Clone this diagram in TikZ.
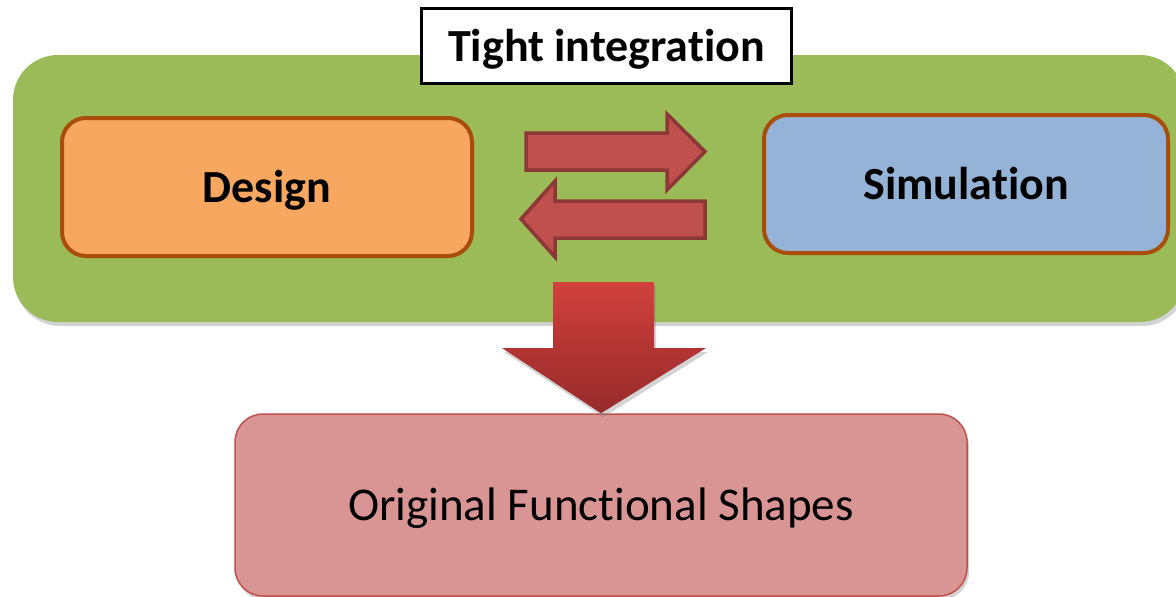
\documentclass[tikz,border=0pt]{standalone}
\usepackage{fontspec}
\setmainfont{Carlito}[Ligatures=NoCommon]
\usetikzlibrary{shadows}
\usetikzlibrary{positioning}
\definecolor{panelgreen}{RGB}{155, 187, 89}
\definecolor{designorange}{RGB}{247, 167, 96}
\definecolor{simblue}{RGB}{149, 179, 215}
\definecolor{rim}{RGB}{168, 78, 10}
\definecolor{arrowred}{RGB}{192, 80, 77}
\definecolor{arrowrim}{RGB}{140, 56, 54}
\definecolor{resultrose}{RGB}{217, 149, 148}
\definecolor{droptop}{RGB}{209, 64, 61}
\definecolor{dropbottom}{RGB}{150, 43, 42}

\tikzset{
	bigtext/.style={font=\fontsize{46}{50}\selectfont, text height=30pt, text depth=0pt, inner sep=0pt},
	stagebox/.style={bigtext, font=\fontsize{46}{50}\selectfont\bfseries, draw=rim, line width=4pt, rounded corners=24},
	flatarrow/.style={fill=arrowred, draw=arrowrim, line width=3.5pt, line join=miter},
	softshadow/.style={drop shadow={opacity=0.35, shadow xshift=2pt, shadow yshift=-4pt}}
}

\begin{document}
\begin{tikzpicture}[x=1pt, y=-1pt]
	\useasboundingbox (0,0) rectangle (1176,597);
	
	% green frame with the two stages
	\node[softshadow, fill=panelgreen, rounded corners=45, minimum width=1172, minimum height=267] (panel) at (599,188.5) {};
	\node[bigtext, font=\fontsize{46}{50}\selectfont\bfseries, fill=white, draw=black, line width=3pt, minimum width=370, minimum height=75] (tight) at (606.5,46) {Tight integration};
	
	\node[stagebox, fill=designorange, minimum width=410, minimum height=138] (design) at (267,187) {Design};
	\node[stagebox, fill=simblue, minimum width=404, minimum height=138] (sim) at (966,184) {Simulation};
	
	% exchange arrows
	\draw[flatarrow] (526,133) -- (667,133) -- (667,114) -- (705,151.5) -- (667,190) -- (667,170) -- (526,170) -- cycle;
	\draw[flatarrow] (705,201) -- (555,201) -- (555,181) -- (521,219) -- (555,257) -- (555,238) -- (705,238) -- cycle;
	
	% outcome
	\node[bigtext, font=\fontsize{47}{50}\selectfont, softshadow, fill=resultrose, draw=arrowred, line width=1.5pt, rounded corners=28, minimum width=732, minimum height=182] (result) at (601,505) {Original Functional Shapes};
	
	\shade[softshadow, top color=droptop, bottom color=dropbottom] (553,282) -- (654,282) -- (654,348) -- (706,348) -- (result.north) -- (502,348) -- (553,348) -- cycle;
\end{tikzpicture}
\end{document}
